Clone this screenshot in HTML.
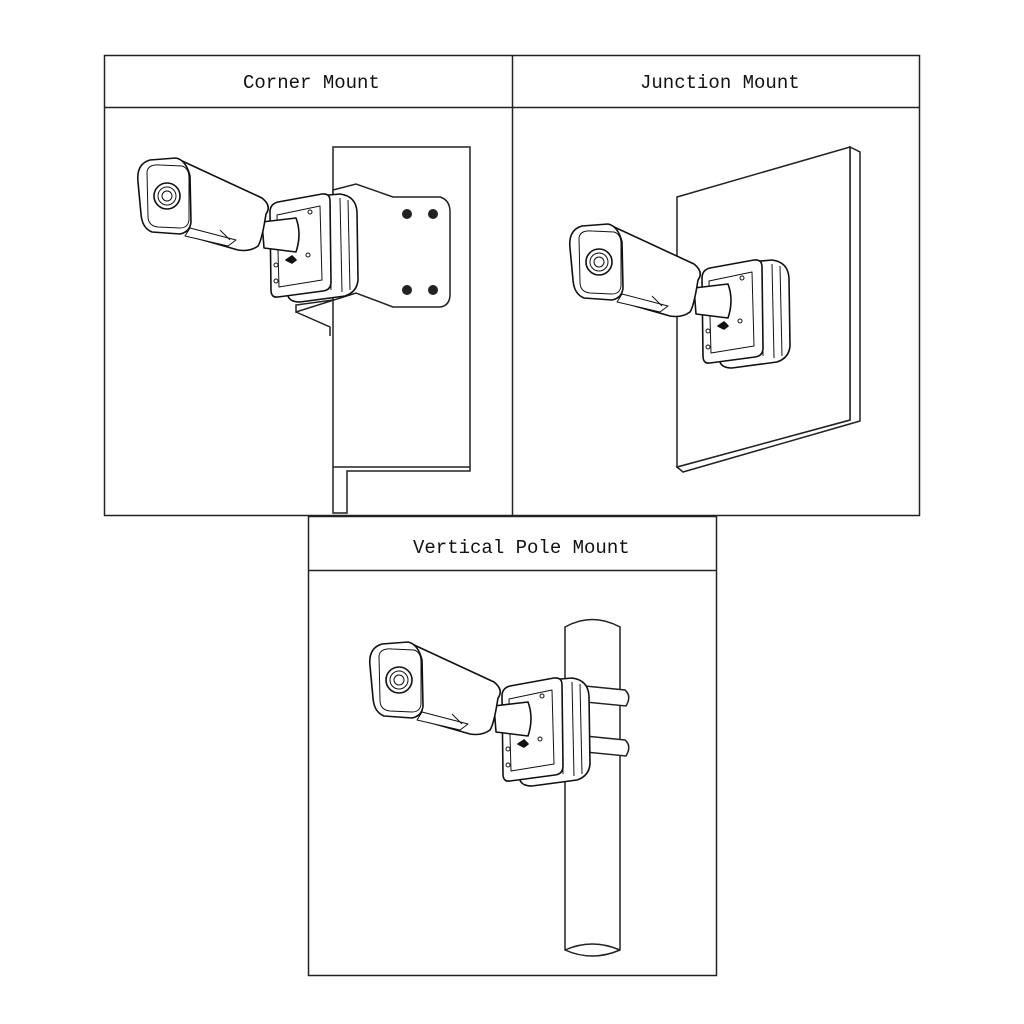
<!DOCTYPE html>
<html><head><meta charset="utf-8"><style>
body{margin:0;background:#fff}
svg{display:block}
text{font-family:"Liberation Mono",monospace;font-size:19px;fill:#111}
</style></head><body>
<svg width="1024" height="1024" viewBox="0 0 1024 1024" xmlns="http://www.w3.org/2000/svg">
<defs>
<g id="cam" fill="#fff" stroke="#111" stroke-width="1.6" stroke-linejoin="round">
  <!-- box side -->
  <path d="M318,196 L340,194 Q356,196 357,212 L358,280 Q357,292 345,296 L300,302 Q290,302 288,296 Z"/>
  <path d="M330,200 L331,290 M340,198 L342,292 M348,200 L350,290" fill="none" stroke-width="1"/>
  <!-- box front -->
  <path d="M270,212 Q270,204 278,202 L322,194 Q330,193 330,201 L331,282 Q331,290 323,291 L278,297 Q271,298 271,290 Z"/>
  <path d="M277,215 L320,206 L322,280 L279,287 Z" fill="none" stroke-width="1"/>
  <circle cx="276" cy="265" r="2" stroke-width="1"/><circle cx="276" cy="281" r="2" stroke-width="1"/>
  <circle cx="310" cy="212" r="2" stroke-width="1"/><circle cx="308" cy="255" r="2" stroke-width="1"/>
  <path d="M286,260 l6,-4 l4,4 l-4,3 z" fill="#111"/>
  <!-- arm -->
  <path d="M262,222 L296,218 Q302,234 296,252 L264,248 Z"/>
  <!-- camera body -->
  <path d="M180,160 L262,198 Q272,206 266,214 Q262,240 258,246 Q250,252 238,250 L196,238 L190,230 Z"/>
  <path d="M190,228 L236,240 L228,246 L185,236 Z" fill="#fff" stroke-width="1"/>
  <path d="M220,230 L230,240" stroke-width="1"/>
  <!-- hood -->
  <path d="M138,182 Q136,164 150,160 L176,158 Q186,160 190,176 L191,222 Q190,232 180,234 L152,232 Q142,228 141,214 Z"/>
  <path d="M147,172 Q148,164 160,165 L182,166 Q189,168 189,178 L189,220 Q188,228 180,228 L158,227 Q148,226 148,216 Z" fill="#fff" stroke-width="1"/>
  <circle cx="167" cy="196" r="13"/><circle cx="167" cy="196" r="9" stroke-width="1"/><circle cx="167" cy="196" r="5" stroke-width="1"/>
</g>
</defs>
<g fill="none" stroke="#222" stroke-width="1.5">
  <rect x="104.5" y="55.5" width="815" height="460"/>
  <line x1="104" y1="107.5" x2="919" y2="107.5"/>
  <line x1="512.5" y1="55" x2="512.5" y2="515"/>
  <rect x="308.5" y="516.5" width="408" height="459" fill="#fff"/>
  <line x1="308" y1="570.5" x2="716" y2="570.5"/>
</g>
<text x="243" y="88">Corner Mount</text>
<text x="640" y="88">Junction Mount</text>
<text x="413" y="553">Vertical Pole Mount</text>

<!-- corner mount -->
<g fill="#fff" stroke="#222" stroke-width="1.5">
  <path d="M333,147 L470,147 L470,471 L347,471 L347,513 L333,513 Z"/>
  <line x1="333" y1="467" x2="470" y2="467"/>
  <path d="M333,190 L356,184 L393,197 L440,197 Q450,200 450,212 L450,296 Q449,306 440,307 L393,307 L356,293 L296,312 L296,305 L333,300 Z"/>
  <path d="M296,312 L330,327 L330,336" fill="none"/>
</g>
<g fill="#222"><circle cx="407" cy="214" r="5"/><circle cx="433" cy="214" r="5"/><circle cx="407" cy="290" r="5"/><circle cx="433" cy="290" r="5"/></g>
<use href="#cam"/>

<!-- junction -->
<g fill="#fff" stroke="#222" stroke-width="1.5">
  <path d="M850,147 L860,152 L860,421 L683,472 L677,467 L850,420 Z"/>
  <path d="M677,197 L850,147 L850,420 L677,467 Z"/>
</g>
<use href="#cam" transform="translate(432,66)"/>

<!-- pole -->
<g fill="#fff" stroke="#222" stroke-width="1.5">
  <path d="M565,627 Q592,612 620,627 L620,950 Q592,962 565,950 Z"/>
  <path d="M565,950 Q592,938 620,950" fill="none"/>
  <path d="M585,686 L625,690 Q632,696 626,706 L585,702 Z"/>
  <path d="M585,736 L625,740 Q632,746 626,756 L585,752 Z"/>
</g>
<use href="#cam" transform="translate(232,484)"/>
</svg>
</body></html>
